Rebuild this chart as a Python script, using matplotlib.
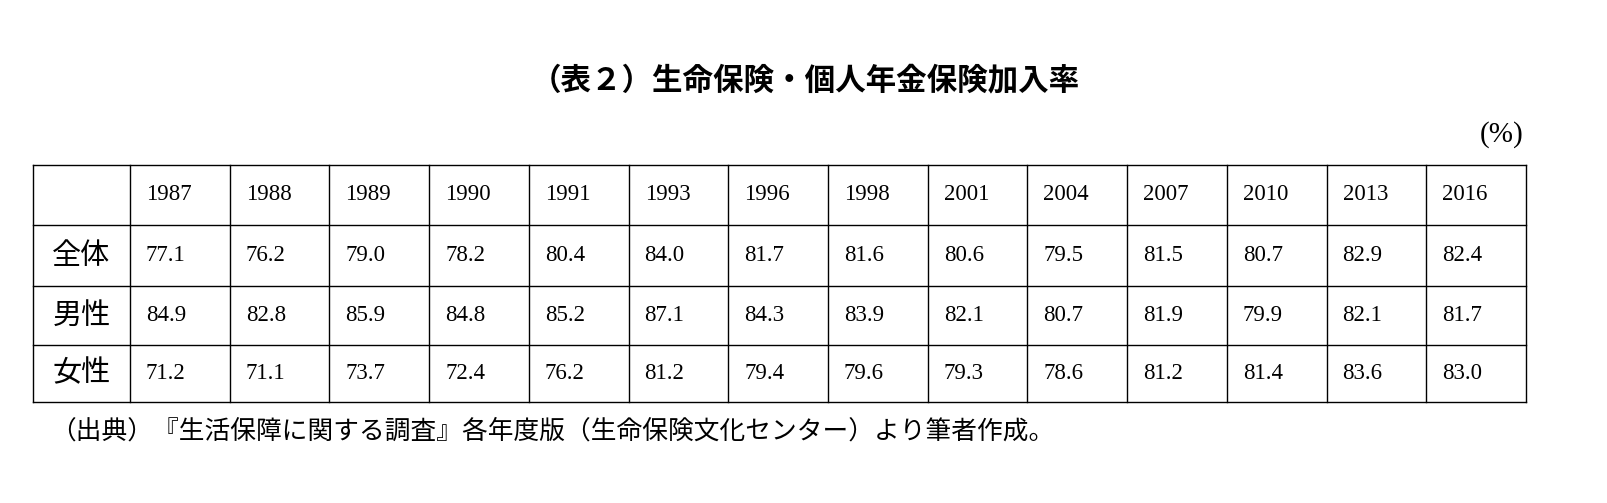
import matplotlib
matplotlib.use("Agg")
import matplotlib.pyplot as plt

years = ["1987","1988","1989","1990","1991","1993","1996","1998","2001","2004","2007","2010","2013","2016"]
row_labels = ["全体", "男性", "女性"]
total = [77.1, 76.2, 79.0, 78.2, 80.4, 84.0, 81.7, 81.6, 80.6, 79.5, 81.5, 80.7, 82.9, 82.4]
male = [84.9, 82.8, 85.9, 84.8, 85.2, 87.1, 84.3, 83.9, 82.1, 80.7, 81.9, 79.9, 82.1, 81.7]
female = [71.2, 71.1, 73.7, 72.4, 76.2, 81.2, 79.4, 79.6, 79.3, 78.6, 81.2, 81.4, 83.6, 83.0]
title = "（表２）生命保険・個人年金保険加入率"
unit = "(%)"
source = "（出典）『生活保障に関する調査』各年度版（生命保険文化センター）より筆者作成。"

W, H = 1608, 503
fig = plt.figure(figsize=(W/100, H/100), dpi=100)
ax = fig.add_axes([0, 0, 1, 1])
ax.set_xlim(0, W); ax.set_ylim(H, 0); ax.axis("off")

jp = ["Noto Sans CJK JP", "DejaVu Sans"]
serif = ["Liberation Serif", "Noto Sans CJK JP"]

x0, x1 = 33, 1526
first_w = 97
cw = (x1 - x0 - first_w) / len(years)
ys = [165, 225, 286, 345, 402]
xs = [x0, x0 + first_w] + [x0 + first_w + cw*(i+1) for i in range(len(years))]

for y in ys:
    ax.plot([x0, x1], [y, y], color="black", lw=1)
for x in xs:
    ax.plot([x, x], [ys[0], ys[-1]], color="black", lw=1)

for i, yr in enumerate(years):
    ax.text(xs[i+1] + 16, (ys[0]+ys[1])/2, yr, family=serif, fontsize=16.5, va="center", ha="left")
for r, (lab, vals) in enumerate(zip(row_labels, [total, male, female])):
    yc = (ys[r+1] + ys[r+2]) / 2
    ax.text(x0 + first_w/2, yc, lab, family=jp, fontsize=21, va="center", ha="center")
    for i, v in enumerate(vals):
        ax.text(xs[i+1] + 16, yc, f"{v:.1f}", family=serif, fontsize=16.5, va="center", ha="left")

ax.text(805, 80, title, family=jp, fontsize=22, fontweight="bold", ha="center", va="center")
ax.text(1524, 135, unit, family=serif, fontsize=21, ha="right", va="center")
ax.text(50, 432, source, family=jp, fontsize=18.5, ha="left", va="center")

fig.savefig("out.png", dpi=100)
